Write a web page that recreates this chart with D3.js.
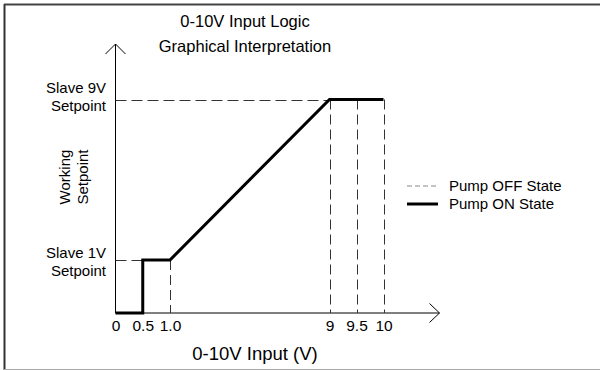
<!DOCTYPE html>
<html>
<head>
<meta charset="utf-8">
<script src="https://cdn.jsdelivr.net/npm/d3@7"></script>
<style>
  html, body { margin: 0; padding: 0; background: #fff; }
  svg { display: block; font-family: "Liberation Sans", Arial, sans-serif; }
</style>
</head>
<body>
<svg id="chart" width="600" height="370"></svg>
<script>
// Input voltage ticks shown along the horizontal axis
const xTickValues = [0, 0.5, 1, 9, 9.5, 10];
const xTickLabels = ["0", "0.5", "1.0", "9", "9.5", "10"];

// Setpoint levels (in volts) labelled on the vertical axis
const yLevels = [9, 1];
const yLevelLabels = [["Slave 9V", "Setpoint"], ["Slave 1V", "Setpoint"]];

// Pump ON state: working setpoint versus 0-10V input
const onInput = [0, 0.5, 0.5, 1, 9, 10];
const onSetpoint = [0, 0, 1, 1, 9, 9];

// Pump OFF state guides: horizontal [setpoint, fromInput, toInput]
const offHorizontal = [[9, 0, 9], [1, 0, 0.5]];
// Pump OFF state guides: vertical [input, toSetpoint]
const offVertical = [[1, 1], [9, 9], [9.5, 9], [10, 9]];

const titleLines = ["0-10V Input Logic", "Graphical Interpretation"];
const xTitle = "0-10V Input (V)";
const yTitle = ["Working", "Setpoint"];
const legendItems = ["Pump OFF State", "Pump ON State"];

const svg = d3.select("#chart");

// Piecewise scales: the 0–1 V and 9–10 V bands are drawn wider
const x = d3.scaleLinear().domain([0, 1, 9, 10]).range([115.5, 170, 329.5, 383.5]);
const y = d3.scaleLinear().domain([0, 1, 9]).range([313, 260, 99.5]);

// Frame
svg.append("line").attr("x1", 4.5).attr("x2", 4.5).attr("y1", 4).attr("y2", 370)
  .attr("stroke", "#333").attr("stroke-width", 2);
svg.append("line").attr("x1", 4).attr("x2", 600).attr("y1", 4.5).attr("y2", 4.5)
  .attr("stroke", "#444").attr("stroke-width", 2);
svg.append("line").attr("x1", 4).attr("x2", 600).attr("y1", 369.5).attr("y2", 369.5)
  .attr("stroke", "#aaa").attr("stroke-width", 1);

// Title
svg.append("g").selectAll("text").data(titleLines).join("text")
  .attr("x", 245).attr("y", (d, i) => 27 + i * 25)
  .attr("text-anchor", "middle").attr("font-size", 16.5).attr("fill", "#000")
  .text(d => d);

// Axes with arrow heads
const x0 = x(0), yBase = y(0);
const xEnd = 439.5, yEnd = 44;
svg.append("line").attr("x1", x0).attr("x2", x0).attr("y1", yBase).attr("y2", yEnd)
  .attr("stroke", "#000").attr("stroke-width", 1);
svg.append("path").attr("d", `M${x0 - 10},${yEnd + 10}L${x0},${yEnd}L${x0 + 10},${yEnd + 10}`)
  .attr("fill", "none").attr("stroke", "#000").attr("stroke-width", 1);
svg.append("line").attr("x1", x0).attr("x2", xEnd).attr("y1", yBase).attr("y2", yBase)
  .attr("stroke", "#000").attr("stroke-width", 1);
svg.append("path").attr("d", `M${xEnd - 10},${yBase - 9.5}L${xEnd},${yBase}L${xEnd - 10},${yBase + 9.5}`)
  .attr("fill", "none").attr("stroke", "#000").attr("stroke-width", 1);

// Tick labels (no tick marks)
const xAxis = d3.axisBottom(x).tickValues(xTickValues)
  .tickFormat((d, i) => xTickLabels[i]).tickSize(0).tickPadding(0);
const gx = svg.append("g").attr("transform", `translate(0,${yBase})`).call(xAxis);
gx.select(".domain").remove();
gx.selectAll("text").attr("dy", null).attr("y", 17.5)
  .attr("font-size", 15.5).attr("fill", "#000")
  .attr("font-family", "'Liberation Sans', Arial, sans-serif");

// Setpoint level labels
const levelNudge = { 9: -7, 1: -2.5 };
yLevels.forEach((lv, i) => {
  svg.append("g").selectAll("text").data(yLevelLabels[i]).join("text")
    .attr("x", 106).attr("y", (d, j) => y(lv) + levelNudge[lv] + j * 18)
    .attr("text-anchor", "end").attr("font-size", 15).attr("fill", "#000")
    .text(d => d);
});

// Axis titles
svg.append("text").attr("x", 255).attr("y", 360).attr("text-anchor", "middle")
  .attr("font-size", 18.5).attr("fill", "#000").text(xTitle);
svg.append("g").selectAll("text").data(yTitle).join("text")
  .attr("transform", (d, i) => `translate(${70 + i * 18},177) rotate(-90)`)
  .attr("text-anchor", "middle").attr("font-size", 15).attr("fill", "#000")
  .text(d => d);

// Pump OFF state guides
const guides = svg.append("g").attr("stroke", "#333").attr("stroke-width", 1).attr("fill", "none");
guides.selectAll("line.h").data(offHorizontal).join("line").attr("class", "h")
  .attr("x1", d => x(d[1])).attr("x2", d => x(d[2]))
  .attr("y1", d => Math.round(y(d[0])) + 0.5).attr("y2", d => Math.round(y(d[0])) + 0.5)
  .attr("stroke-dasharray", "11,5");
guides.selectAll("line.v").data(offVertical).join("line").attr("class", "v")
  .attr("x1", d => Math.round(x(d[0])) + 0.5).attr("x2", d => Math.round(x(d[0])) + 0.5)
  .attr("y1", d => y(d[1])).attr("y2", yBase)
  .attr("stroke-dasharray", "10,5");

// Pump ON state
const onPoints = onInput.map((v, i) => [x(v), y(onSetpoint[i])]);
svg.append("path").datum(onPoints)
  .attr("d", d3.line())
  .attr("fill", "none").attr("stroke", "#000").attr("stroke-width", 3)
  .attr("stroke-linejoin", "miter");

// Legend
const legend = svg.append("g");
legendItems.forEach((label, i) => {
  const ly = 186 + i * 18;
  legend.append("line").attr("x1", 407).attr("x2", 438).attr("y1", ly).attr("y2", ly)
    .attr("stroke", i === 0 ? "#888" : "#000")
    .attr("stroke-width", i === 0 ? 1 : 3)
    .attr("stroke-dasharray", i === 0 ? "5,3" : null);
  legend.append("text").attr("x", 449).attr("y", ly + 5)
    .attr("font-size", 15).attr("fill", "#000").text(label);
});
</script>
</body>
</html>
